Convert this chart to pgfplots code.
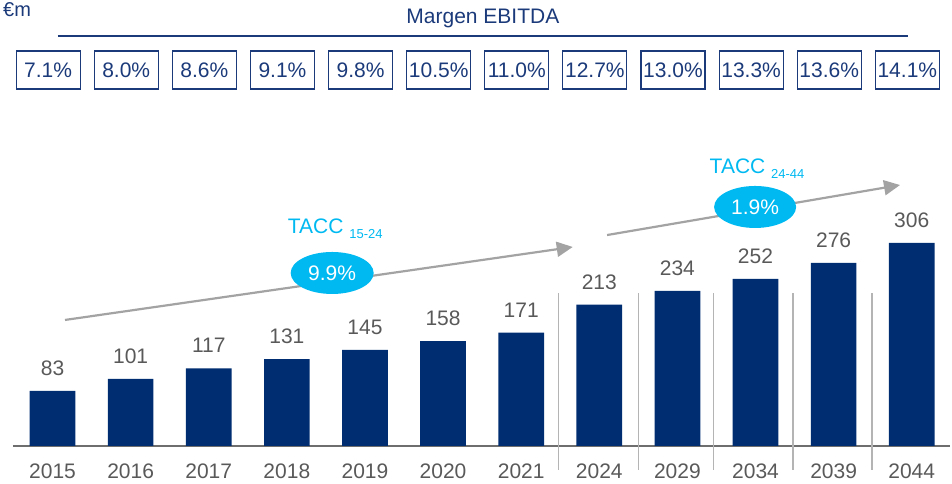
\documentclass[border=0pt]{standalone}
\usepackage{fontspec}
\setmainfont{Liberation Sans}
\usepackage{pgfplots}
\pgfplotsset{compat=1.18}
\usetikzlibrary{arrows.meta,shapes.geometric}

\definecolor{barnavy}{HTML}{002D72}
\definecolor{boxnavy}{HTML}{1B3A7A}
\definecolor{valgray}{HTML}{595959}
\definecolor{axisgray}{HTML}{6E6E6E}
\definecolor{sepgray}{HTML}{B4B4B4}
\definecolor{arrowgray}{HTML}{A3A3A3}
\definecolor{tcyan}{HTML}{00B9F1}
\newcommand\fs[1]{\fontsize{#1}{#1}\selectfont}

\begin{document}
\begin{tikzpicture}[x=1pt,y=1pt]
\useasboundingbox (0,0) rectangle (952,484);
\begin{axis}[
    at={(13pt,38pt)}, anchor=south west,
    width=937pt, height=446pt, scale only axis,
    xmin=-0.506, xmax=11.49, ymin=0, ymax=672.3,
    clip=false,
    axis x line=bottom, axis y line=none,
    axis line style={-, draw=axisgray, line width=2pt},
    xtick={0,...,11},
    xticklabels={2015,2016,2017,2018,2019,2020,2021,2024,2029,2034,2039,2044},
    major tick length=0pt, ytick=\empty,
    xticklabel style={anchor=base, yshift=-33pt, font=\fs{21}, text=valgray},
    /pgf/number format/assume math mode=true,
]

% EBITDA (EUR m)
\addplot[ybar, bar width=45.7pt, fill=barnavy, draw=none,
    nodes near coords,
    nodes near coords style={anchor=base, yshift=15.5pt, inner sep=0pt, font=\fs{21}, text=valgray}]
    coordinates {(0,83) (1,101) (2,117) (3,131) (4,145) (5,158) (6,171)
                 (7,213) (8,234) (9,252) (10,276) (11,306)};

% margen EBITDA boxes
\addplot[draw=none, mark=none, nodes near coords, point meta=explicit symbolic,
    nodes near coords style={anchor=center, draw=boxnavy, line width=1.2pt,
        minimum width=64pt, minimum height=38pt, inner sep=0pt, xshift=-4.4pt,
        font=\fs{21}, text=boxnavy}]
    coordinates {(0,566.8)[7.1\%] (1,566.8)[8.0\%] (2,566.8)[8.6\%] (3,566.8)[9.1\%]
                 (4,566.8)[9.8\%] (5,566.8)[10.5\%] (6,566.8)[11.0\%] (7,566.8)[12.7\%]
                 (8,566.8)[13.0\%] (9,566.8)[13.3\%] (10,566.8)[13.6\%] (11,566.8)[14.1\%]};

\pgfplotsinvokeforeach{6.48,7.5,8.46,9.48,10.49}{
  \draw[sepgray, line width=1.2pt] (axis cs:#1,230.6) -- (axis cs:#1,-36.2);
}

\node[anchor=base west, inner sep=0pt, font=\fs{20}, text=boxnavy] at (axis cs:-0.634,647) {€m};
\node[anchor=base, inner sep=0pt, font=\fs{21}, text=boxnavy] at (axis cs:5.51,637) {Margen EBITDA};
\draw[boxnavy, line width=1.3pt] (axis cs:0.07,618) -- (axis cs:10.95,618);

\draw[arrowgray, line width=2.2pt, -{Triangle[length=16pt,width=15pt]}]
    (axis cs:0.16,190) -- (axis cs:6.66,300);
\draw[arrowgray, line width=2.2pt, -{Triangle[length=16pt,width=15pt]}]
    (axis cs:7.10,318) -- (axis cs:10.85,393.4);

\node[ellipse, fill=tcyan, minimum width=83pt, minimum height=42pt, inner sep=0pt,
      text=white, font=\fs{21}] at (axis cs:3.58,260.8) {9.9\%};
\node[ellipse, fill=tcyan, minimum width=82pt, minimum height=42pt, inner sep=0pt,
      text=white, font=\fs{21}] at (axis cs:8.995,360.3) {1.9\%};

\node[anchor=base, inner sep=0pt, text=tcyan, font=\fs{21}] at (axis cs:3.62,319.6)
    {TACC {\fs{13}\raisebox{-5pt}{15-24}}};
\node[anchor=base, inner sep=0pt, text=tcyan, font=\fs{21}] at (axis cs:9.02,411)
    {TACC {\fs{13}\raisebox{-5pt}{24-44}}};
\end{axis}
\end{tikzpicture}
\end{document}
